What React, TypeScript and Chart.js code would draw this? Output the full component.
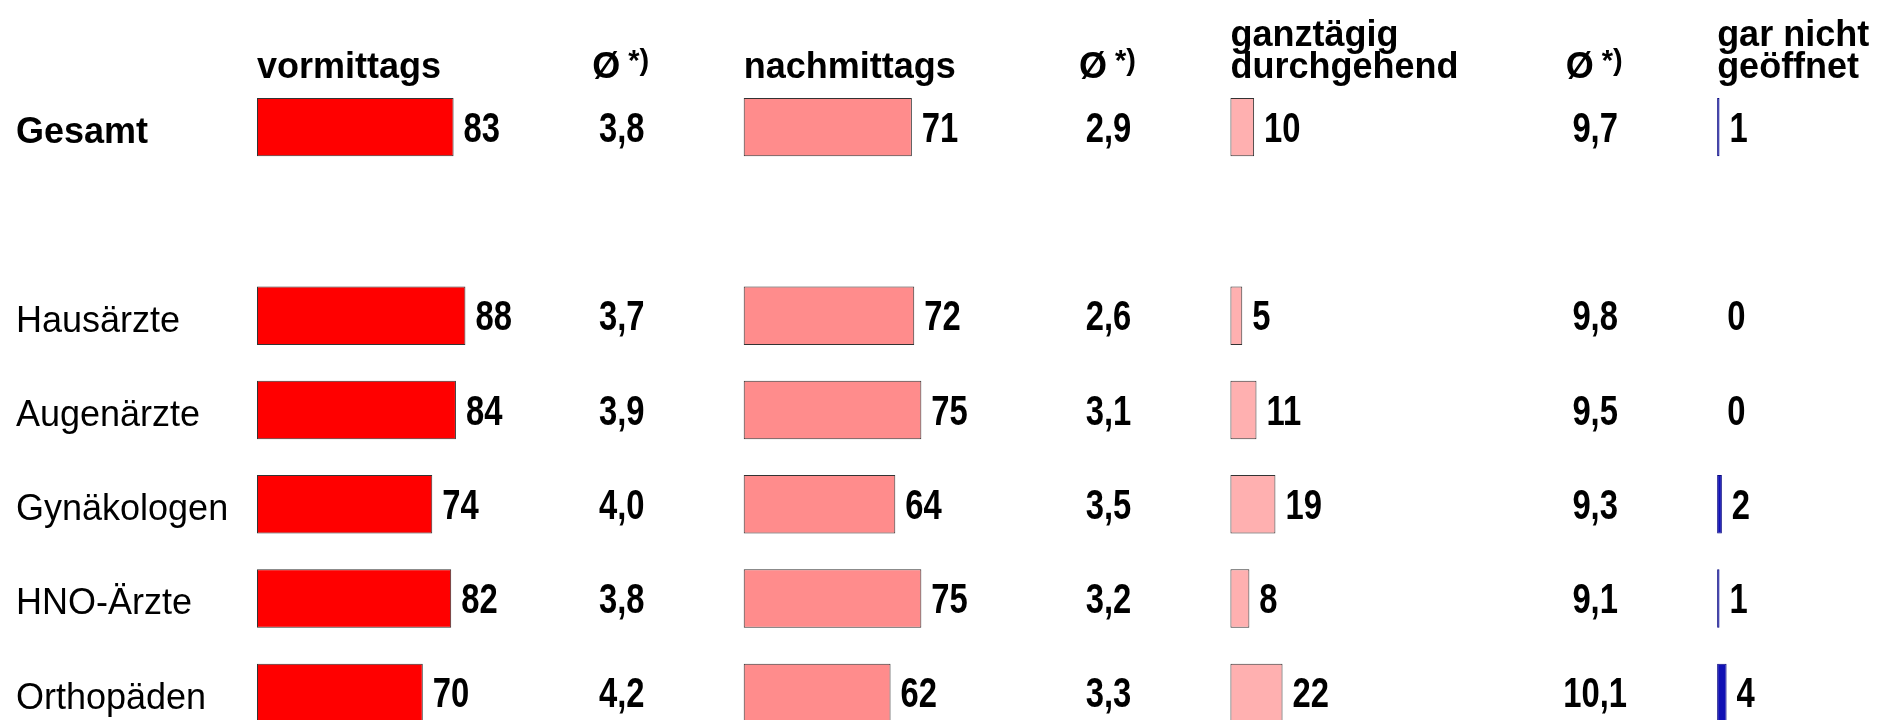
import React, { useEffect, useRef } from "react";
import { Chart, registerables } from "chart.js";

Chart.register(...registerables);

// ---- data ----
const categories = ["Gesamt", "", "Hausärzte", "Augenärzte", "Gynäkologen", "HNO-Ärzte", "Orthopäden"];
const columnTitles = [["vormittags"], ["nachmittags"], ["ganztägig", "durchgehend"], ["gar nicht", "geöffnet"]];
const avgTitle = "Ø";
const avgNote = "*)";
const vormittags = [83, null, 88, 84, 74, 82, 70];
const nachmittags = [71, null, 72, 75, 64, 75, 62];
const ganztaegig = [10, null, 5, 11, 19, 8, 22];
const garNicht = [1, null, 0, 0, 2, 1, 4];
const avgVormittags = [3.8, null, 3.7, 3.9, 4.0, 3.8, 4.2];
const avgNachmittags = [2.9, null, 2.6, 3.1, 3.5, 3.2, 3.3];
const avgGanztaegig = [9.7, null, 9.8, 9.5, 9.3, 9.1, 10.1];

// ---- layout constants ----
const COL_STEP = 205.5;
const AXIS_RANGE = 684;
const AVG_POS = 154;
const FONT = '"Liberation Sans", Arial, sans-serif';
const colors = ["#ff0000", "#ff8c8c", "#ffb0b0", "#1010b4"];
const borders = ["#333333", "#333333", "#333333", "#0a0a80"];

const fmt = (v: number) => v.toFixed(1).replace(".", ",");

function drawNarrow(ctx: CanvasRenderingContext2D, text: string, x: number, y: number, align: CanvasTextAlign) {
  ctx.save();
  ctx.translate(x, y);
  ctx.scale(0.78, 1);
  ctx.font = `bold 42px ${FONT}`;
  ctx.fillStyle = "#000";
  ctx.textAlign = align;
  ctx.textBaseline = "middle";
  ctx.fillText(text, 0, 3);
  ctx.restore();
}

const overlay = {
  id: "overlay",
  afterDatasetsDraw(chart: any) {
    const ctx: CanvasRenderingContext2D = chart.ctx;
    const yScale = chart.scales.y;
    // value labels next to bars
    chart.data.datasets.forEach((ds: any, di: number) => {
      const meta = chart.getDatasetMeta(di);
      meta.data.forEach((bar: any, i: number) => {
        const v = ds.data[i];
        if (v == null) return;
        const p = bar.getProps(["x", "y"], true);
        drawNarrow(ctx, String(v), p.x + 10, p.y, "left");
      });
    });
    // averages
    [avgVormittags, avgNachmittags, avgGanztaegig].forEach((arr, k) => {
      const x = chart.scales["x" + k].getPixelForValue(AVG_POS);
      arr.forEach((v, i) => {
        if (v == null) return;
        drawNarrow(ctx, fmt(v), x, yScale.getPixelForValue(i), "center");
      });
    });
    // headers
    ctx.save();
    ctx.fillStyle = "#000";
    ctx.textBaseline = "alphabetic";
    ctx.textAlign = "left";
    columnTitles.forEach((lines, k) => {
      const x0 = chart.scales["x" + k].getPixelForValue(0);
      const lastBase = 78;
      ctx.font = `bold 36px ${FONT}`;
      lines.forEach((line, li) => {
        ctx.fillText(line, x0, lastBase - (lines.length - 1 - li) * 32);
      });
      if (k < 3) {
        const xc = chart.scales["x" + k].getPixelForValue(AVG_POS);
        ctx.font = `bold 36px ${FONT}`;
        const w1 = ctx.measureText(avgTitle + " ").width;
        ctx.font = `bold 29px ${FONT}`;
        const w2 = ctx.measureText(avgNote).width;
        const left = xc - (w1 + w2) / 2;
        ctx.font = `bold 36px ${FONT}`;
        ctx.fillText(avgTitle, left, 78);
        ctx.font = `bold 29px ${FONT}`;
        ctx.fillText(avgNote, left + w1 - 2, 70);
      }
    });
    ctx.restore();
  },
};

export default function App() {
  const ref = useRef<HTMLCanvasElement>(null);
  useEffect(() => {
    if (!ref.current) return;
    const series = [vormittags, nachmittags, ganztaegig, garNicht];
    const scales: any = {
      y: {
        type: "category",
        position: "left",
        grid: { display: false },
        border: { display: false },
        ticks: {
          crossAlign: "far",
          color: "#000",
          padding: 0,
          labelOffset: 6,
          font: (c: any) => ({ family: FONT, size: 36, weight: c.index === 0 ? "bold" : "normal" }),
        },
        afterFit: (s: any) => {
          s.width = 241;
          s.paddingTop = 0;
          s.paddingBottom = 0;
        },
      },
    };
    series.forEach((_, k) => {
      scales["x" + k] = {
        type: "linear",
        display: false,
        min: -k * COL_STEP,
        max: AXIS_RANGE - k * COL_STEP,
      };
    });
    const chart = new Chart(ref.current, {
      type: "bar",
      data: {
        labels: categories,
        datasets: series.map((d, k) => ({
          data: d,
          xAxisID: "x" + k,
          backgroundColor: colors[k],
          borderColor: borders[k],
          borderWidth: 1,
          borderSkipped: false,
          grouped: false,
          categoryPercentage: 0.62,
          barPercentage: 1,
        })),
      },
      options: {
        indexAxis: "y",
        responsive: false,
        animation: false,
        layout: { padding: { left: 16, top: 80, right: 0, bottom: 0 } },
        plugins: { legend: { display: false }, tooltip: { enabled: false } },
        scales,
      },
      plugins: [overlay],
    } as any);
    return () => chart.destroy();
  }, []);
  return (
    <div style={{ position: "absolute", left: 0, top: 0, width: 1877, height: 720, overflow: "hidden", background: "#fff" }}>
      <canvas ref={ref} width={1877} height={740} style={{ display: "block" }} />
    </div>
  );
}
